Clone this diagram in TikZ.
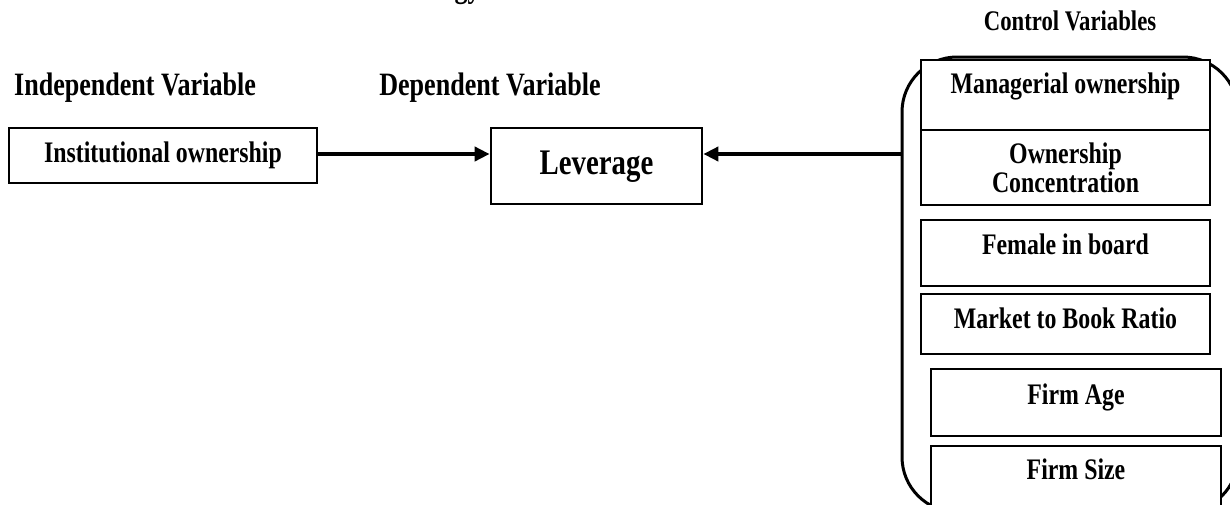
\documentclass[tikz,border=0pt]{standalone}
\usepackage{fontspec}
\setmainfont{Liberation Serif}[FakeStretch=0.8]
\usetikzlibrary{arrows.meta}
\begin{document}
\begin{tikzpicture}[x=0.5pt,y=-0.5pt,
  box/.style={draw=black, line width=1.35pt, fill=white, inner sep=0pt, text height=10pt},
  boxtxt/.style={font=\bfseries\fontsize{14.9pt}{13pt}\selectfont},
  head/.style={font=\bfseries\fontsize{16.3pt}{18pt}\selectfont, anchor=base, inner sep=0pt},
  conn/.style={line width=2pt, -{Triangle[length=7.5pt,width=7pt]}}]
\useasboundingbox (0,0) rectangle (1230,504);
% cropped title fragment
\node[font=\bfseries\fontsize{16.3pt}{18pt}\selectfont, anchor=base east, inner sep=0pt] (title) at (481,-3) {gy};
% headings
\node[head] (hind) at (135,95) {Independent Variable};
\node[head] (hdep) at (490,95) {Dependent Variable};
\node[head, font=\bfseries\fontsize{14.2pt}{16pt}\selectfont] (hctl) at (1070,30) {Control Variables};
% control group frame
\node[draw=black, line width=1.5pt, rounded corners=27.5pt, inner sep=0pt,
  minimum width=168pt, minimum height=227.5pt] (ctrl) at (1070,284.5) {};
% main boxes
\node[box, boxtxt, minimum width=154pt, minimum height=27.5pt, text depth=3.5pt] (inst) at (163,155.5) {Institutional ownership};
\node[box, font=\bfseries\fontsize{18pt}{20pt}\selectfont, minimum width=105.5pt, minimum height=38pt, text height=12pt, text depth=4pt] (lev) at (596.5,166) {Leverage};
% control boxes
\node[box, boxtxt, minimum width=144.5pt, minimum height=35pt, text depth=12pt] (man) at (1065.5,95) {Managerial ownership};
\node[box, boxtxt, minimum width=144.5pt, minimum height=37.5pt, align=center, text height=, text depth=] (own) at (1065.5,167.5) {Ownership\\Concentration};
\node[box, boxtxt, minimum width=144.5pt, minimum height=33pt, text depth=9pt] (fem) at (1065.5,253) {Female in board};
\node[box, boxtxt, minimum width=144.5pt, minimum height=30pt, text depth=6pt] (mkt) at (1065.5,324) {Market to Book Ratio};
\node[box, boxtxt, minimum width=145pt, minimum height=33.5pt, text depth=8.5pt] (age) at (1076,402.5) {Firm Age};
\node[box, boxtxt, minimum width=145pt, minimum height=47pt, text depth=24pt] (size) at (1076,493) {Firm Size};
% connectors
\coordinate (ya) at (0,154);
\draw[conn] (inst.east |- ya) -- (lev.west |- ya);
\draw[conn] (ctrl.west |- ya) -- (lev.east |- ya);
\end{tikzpicture}
\end{document}
